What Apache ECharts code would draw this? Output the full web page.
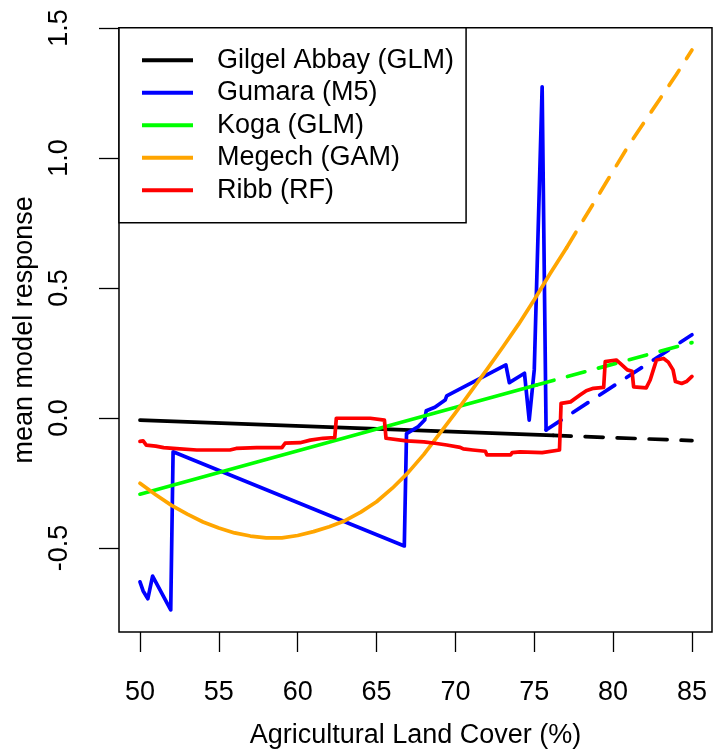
<!DOCTYPE html>
<html lang="en">
<head>
    <meta charset="UTF-8">
    <title>mean model response</title>
    <script src="https://cdn.jsdelivr.net/npm/echarts@6/dist/echarts.min.js"></script>
    <style>
        html, body { margin: 0; padding: 0; background: #fff; }
        #main { width: 713px; height: 751px; }
    </style>
</head>
<body>
<div id="main"></div>
<script>
    // tick labels
    var xTicks = [50, 55, 60, 65, 70, 75, 80, 85];
    var yTicks = [-0.5, 0, 0.5, 1.0, 1.5];

    // Gilgel Abbay (GLM)
    var gilgelX = [50, 76.2];
    var gilgelY = [-0.008, -0.067];
    var gilgelDashX = [76.2, 85];
    var gilgelDashY = [-0.067, -0.087];

    // Gumara (M5)
    var gumaraX = [50, 50.2, 50.5, 50.8, 51.95, 52.1, 66.76, 66.9, 67.65, 68.05, 68.15, 68.7, 69.35, 69.45,
        73.2, 73.42, 74.38, 74.68, 75.0, 75.5, 75.75];
    var gumaraY = [-0.63, -0.665, -0.695, -0.608, -0.738, -0.13, -0.492, -0.06, -0.033, -0.008, 0.028, 0.041, 0.069, 0.085,
        0.204, 0.136, 0.172, -0.008, 0.185, 1.274, -0.046];
    var gumaraDashX = [75.75, 85];
    var gumaraDashY = [-0.046, 0.32];

    // Koga (GLM)
    var kogaX = [50, 75.15];
    var kogaY = [-0.293, 0.127];
    var kogaDashX = [75.15, 85];
    var kogaDashY = [0.127, 0.29];

    // Megech (GAM)
    var megechX = [50, 51, 52, 53, 54, 55, 56, 57, 58, 59, 60, 61, 62, 63, 64, 65, 66, 67, 68, 69, 70, 71, 72, 73, 74, 75, 76, 77.05];
    var megechY = [-0.251, -0.295, -0.336, -0.37, -0.4, -0.423, -0.442, -0.454, -0.461, -0.461, -0.452, -0.437, -0.418, -0.395,
        -0.362, -0.322, -0.27, -0.21, -0.14, -0.06, 0.02, 0.103, 0.187, 0.272, 0.36, 0.455, 0.555, 0.655];
    var megechDashX = [77.05, 78, 79, 80, 81, 82, 83, 84, 85];
    var megechDashY = [0.655, 0.75, 0.85, 0.95, 1.05, 1.14, 1.23, 1.32, 1.415];

    // Ribb (RF)
    var ribbX = [50, 50.2, 50.4, 51, 51.5, 52.1, 53.6, 55.7, 56.1, 57.4, 59.0, 59.2, 60.15, 60.8, 61.6, 62.35, 62.45,
        64.6, 64.65, 65.5, 65.6, 66.9, 68.0, 68.7, 69.45, 70.3, 70.5, 71.1, 71.9, 72.0, 73.5, 73.6, 74.1, 75.5, 76.6,
        76.7, 77.3, 77.9, 78.3, 78.75, 79.4, 79.5, 80.2, 80.45, 80.9, 81.2, 81.3, 82.1, 82.35, 82.55, 82.75, 83.2,
        83.5, 83.8, 83.95, 84.35, 84.65, 85];
    var ribbY = [-0.09, -0.088, -0.104, -0.108, -0.114, -0.117, -0.123, -0.123, -0.117, -0.114, -0.114, -0.097, -0.095,
        -0.085, -0.078, -0.075, -0.001, -0.001, -0.008, -0.008, -0.078, -0.088, -0.092, -0.097, -0.104, -0.113, -0.119,
        -0.123, -0.128, -0.142, -0.142, -0.133, -0.13, -0.133, -0.123, 0.056, 0.062, 0.088, 0.105, 0.114, 0.118, 0.217,
        0.223, 0.21, 0.185, 0.18, 0.12, 0.116, 0.146, 0.185, 0.223, 0.229, 0.215, 0.185, 0.14, 0.133, 0.14, 0.16];

    var names = ['Gilgel Abbay (GLM)', 'Gumara (M5)', 'Koga (GLM)', 'Megech (GAM)', 'Ribb (RF)'];
    var colors = ['#000000', '#0000ff', '#00ff00', '#ffa500', '#ff0000'];

    var font = '"Liberation Sans", Arial, sans-serif';

    function pairs(xs, ys) {
        var out = [];
        for (var i = 0; i < xs.length; i++) {
            out.push([xs[i], ys[i]]);
        }
        return out;
    }

    function lineSeries(idx, xs, ys, dashed) {
        return {
            name: names[idx],
            type: 'line',
            data: pairs(xs, ys),
            showSymbol: false,
            symbol: 'none',
            silent: true,
            itemStyle: { color: colors[idx] },
            lineStyle: {
                color: colors[idx],
                width: 3.7,
                type: dashed ? [18, 14] : 'solid',
                cap: 'round',
                join: 'round'
            }
        };
    }

    var myChart = echarts.init(document.getElementById('main'));

    var option = {
        animation: false,
        backgroundColor: '#fff',
        grid: {
            left: 119,
            top: 27.7,
            right: 1,
            bottom: 119,
            outerBoundsMode: 'none',
            show: true,
            borderColor: '#000',
            borderWidth: 1.5,
            backgroundColor: 'transparent'
        },
        legend: {
            left: 119,
            top: 27.7,
            orient: 'vertical',
            data: names,
            icon: 'rect',
            itemWidth: 51,
            itemHeight: 4,
            itemGap: 5.5,
            padding: [19, 12, 19, 23],
            backgroundColor: '#fff',
            borderColor: '#000',
            borderWidth: 1.5,
            selectedMode: false,
            textStyle: {
                fontFamily: font,
                fontSize: 27,
                lineHeight: 27,
                color: '#000',
                padding: [0, 0, 0, 19]
            }
        },
        xAxis: {
            type: 'value',
            min: 48.67,
            max: 86.27,
            name: 'Agricultural Land Cover (%)',
            nameLocation: 'middle',
            nameGap: 90,
            nameTextStyle: { fontFamily: font, fontSize: 27, color: '#000' },
            axisLine: { show: false, onZero: false },
            splitLine: { show: false },
            axisTick: {
                show: true,
                inside: false,
                length: 20,
                customValues: xTicks,
                lineStyle: { color: '#000', width: 1.3 }
            },
            axisLabel: {
                customValues: xTicks,
                margin: 47,
                fontFamily: font,
                fontSize: 27,
                color: '#000'
            }
        },
        yAxis: {
            type: 'value',
            min: -0.823,
            max: 1.501,
            name: 'mean model response',
            nameLocation: 'middle',
            nameGap: 78,
            nameTextStyle: { fontFamily: font, fontSize: 27, color: '#000' },
            axisLine: { show: false, onZero: false },
            splitLine: { show: false },
            axisTick: {
                show: true,
                inside: false,
                length: 20,
                customValues: yTicks,
                lineStyle: { color: '#000', width: 1.3 }
            },
            axisLabel: {
                customValues: yTicks,
                rotate: 90,
                margin: 46,
                fontFamily: font,
                fontSize: 27,
                color: '#000',
                formatter: function (v) { return v.toFixed(1); }
            }
        },
        series: [
            lineSeries(0, gilgelX, gilgelY, false),
            lineSeries(0, gilgelDashX, gilgelDashY, true),
            lineSeries(1, gumaraX, gumaraY, false),
            lineSeries(1, gumaraDashX, gumaraDashY, true),
            lineSeries(2, kogaX, kogaY, false),
            lineSeries(2, kogaDashX, kogaDashY, true),
            lineSeries(3, megechX, megechY, false),
            lineSeries(3, megechDashX, megechDashY, true),
            lineSeries(4, ribbX, ribbY, false)
        ]
    };

    myChart.setOption(option);
</script>
</body>
</html>
